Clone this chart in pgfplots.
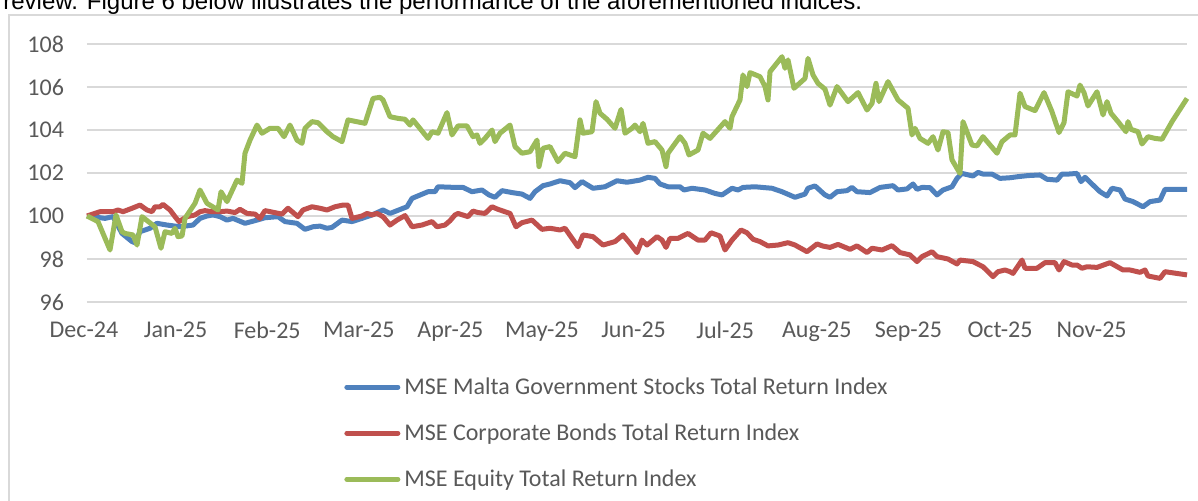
\documentclass[border=0pt]{standalone}
\usepackage{fontspec}
\setmainfont{Carlito}
\newfontfamily\arialfont{Liberation Sans}
\usepackage{pgfplots}
\pgfplotsset{compat=1.18}
\definecolor{gsblue}{HTML}{4F81BD}
\definecolor{cbred}{HTML}{C0504D}
\definecolor{eqgreen}{HTML}{9BBB59}
\definecolor{gridc}{HTML}{D9D9D9}
\definecolor{txt}{HTML}{595959}
\begin{document}
\begin{tikzpicture}
\path[use as bounding box] (0,0) rectangle (599pt,250pt);
\clip (0,0) rectangle (599pt,250pt);
\node[anchor=base west, inner sep=0pt, font=\arialfont\fontsize{12pt}{13pt}\selectfont] at (1.5pt,245.2pt) {review. Figure 6 below illustrates the performance of the aforementioned indices.};
\draw[gridc, line width=0.75pt] (4.5pt,242.5pt) rectangle (605pt,-10pt);
\begin{axis}[
  at={(43.5pt,99pt)}, anchor=south west,
  width=550pt, height=129pt, scale only axis,
  xmin=0, xmax=1100, ymin=96, ymax=108,
  axis line style={draw=none}, major tick length=0pt,
  ytick={96,98,...,108}, ymajorgrids, grid style={gridc, line width=0.75pt},
  xtick={0,91.6,183.2,274.8,366.4,458,549.6,641.2,732.8,824.4,916,1007.6},
  xticklabels={Dec-24,Jan-25,Feb-25,Mar-25,Apr-25,May-25,Jun-25,Jul-25,Aug-25,Sep-25,Oct-25,Nov-25},
  tick label style={font=\fontsize{12pt}{14pt}\selectfont, text=txt},
  /pgf/number format/assume math mode=true,
  yticklabel style={xshift=-8pt},
  xticklabel style={yshift=-6.5pt, xshift=-1.5pt},
  clip=false,
  legend style={at={(0.2336,-0.275)}, anchor=north west, draw=none, fill=none,
    font=\fontsize{12pt}{14pt}\selectfont, text=txt, row sep=9.2pt, inner sep=0pt},
  legend cell align=left,
  legend image code/.code={\draw[#1, line width=2.5pt, line cap=round] (0pt,0pt) -- (25.5pt,0pt);},
  every axis plot/.append style={line width=2.5pt, line join=round, no markers},
]
\addplot[gsblue] coordinates {
(0,100.00)(18,99.89)(26,99.97)(35,99.19)(45,98.81)(48,98.76)(53,99.27)(63,99.43)(70,99.66)(80,99.58)
(93,99.50)(106,99.58)(113,99.89)(120,100.00)(126,100.05)(133,99.97)(140,99.81)(146,99.89)(158,99.66)(170,99.81)
(178,99.92)(191,99.97)(198,99.74)(210,99.66)(218,99.38)(226,99.50)(233,99.53)(240,99.43)(245,99.47)(255,99.81)
(265,99.74)(275,99.89)(285,100.05)(296,100.28)(303,100.12)(320,100.43)(325,100.82)(341,101.13)(348,101.13)(351,101.36)
(368,101.33)(376,101.33)(385,101.13)(395,101.21)(402,100.98)(408,100.87)(415,101.18)(425,101.09)(435,101.02)(443,100.82)
(448,101.13)(456,101.41)(463,101.49)(473,101.64)(483,101.55)(488,101.32)(495,101.60)(506,101.29)(518,101.36)(530,101.64)
(540,101.57)(553,101.67)(561,101.80)(568,101.75)(573,101.49)(581,101.36)(593,101.36)(597,101.21)(605,101.29)(618,101.21)
(628,101.05)(635,100.98)(645,101.29)(651,101.21)(656,101.33)(668,101.36)(685,101.29)(695,101.13)(708,100.87)(718,101.02)
(721,101.29)(728,101.40)(738,100.98)(743,100.87)(750,101.13)(760,101.18)(765,101.33)(770,101.13)(783,101.09)(793,101.33)
(806,101.41)(811,101.21)(820,101.26)(826,101.49)(830,101.24)(835,101.33)(843,101.32)(850,100.98)(856,101.21)(865,101.36)
(870,101.75)(875,101.98)(886,101.86)(891,102.03)(896,101.95)(905,101.95)(913,101.75)(923,101.78)(931,101.83)(941,101.88)
(953,101.91)(960,101.71)(970,101.67)(975,101.95)(981,101.95)(990,101.98)(994,101.60)(998,101.80)(1006,101.44)(1013,101.13)
(1020,100.93)(1025,101.29)(1033,101.21)(1038,100.79)(1046,100.67)(1056,100.43)(1063,100.67)(1073,100.74)(1078,101.24)(1100,101.24)
};
\addlegendentry{MSE Malta Government Stocks Total Return Index}
\addplot[cbred] coordinates {
(0,100.00)(13,100.20)(26,100.20)(31,100.28)(36,100.20)(45,100.36)(53,100.51)(60,100.28)(65,100.20)(68,100.43)
(73,100.43)(76,100.54)(83,100.28)(88,99.97)(92,99.74)(100,99.97)(108,100.05)(113,100.20)(118,100.25)(125,100.20)
(133,100.20)(140,100.23)(148,100.16)(153,100.31)(160,100.12)(168,100.09)(173,99.89)(178,100.25)(195,100.09)(201,100.36)
(211,99.97)(216,100.28)(225,100.43)(233,100.36)(240,100.28)(248,100.43)(256,100.51)(261,100.51)(265,99.89)(275,100.00)
(280,100.12)(285,100.05)(290,100.12)(296,99.97)(303,99.58)(310,99.81)(318,100.02)(325,99.50)(335,99.58)(345,99.74)
(350,99.50)(358,99.58)(363,99.78)(368,100.05)(371,100.12)(381,99.97)(386,100.23)(391,100.16)(398,100.12)(405,100.43)
(411,100.31)(423,100.12)(429,99.50)(435,99.69)(445,99.81)(455,99.38)(463,99.43)(473,99.35)(478,99.43)(491,98.57)
(496,99.12)(506,99.04)(516,98.65)(528,98.81)(536,99.12)(543,98.73)(550,98.30)(555,98.88)(560,98.65)(570,99.04)
(575,98.88)(579,98.54)(583,98.96)(591,98.96)(601,99.19)(611,98.88)(618,98.88)(624,99.22)(633,99.07)(638,98.42)
(645,98.88)(654,99.35)(660,99.22)(666,98.92)(673,98.81)(681,98.61)(691,98.65)(701,98.76)(708,98.65)(720,98.34)
(730,98.70)(736,98.60)(743,98.54)(751,98.68)(763,98.45)(770,98.61)(780,98.30)(785,98.50)(795,98.42)(805,98.62)
(813,98.30)(823,98.19)(830,97.88)(835,98.11)(845,98.34)(850,98.11)(861,98.00)(870,97.77)(873,97.95)(886,97.88)
(896,97.64)(906,97.18)(911,97.41)(918,97.49)(923,97.41)(926,97.33)(935,97.95)(938,97.57)(950,97.57)(958,97.83)
(968,97.83)(972,97.49)(977,97.88)(985,97.72)(990,97.72)(995,97.57)(1000,97.64)(1010,97.61)(1023,97.83)(1036,97.49)
(1043,97.49)(1053,97.38)(1058,97.49)(1061,97.21)(1073,97.10)(1078,97.41)(1100,97.26)
};
\addlegendentry{MSE Corporate Bonds Total Return Index}
\addplot[eqgreen] coordinates {
(0,100.00)(11,99.74)(23,98.42)(29,100.05)(35,99.27)(38,99.19)(46,99.12)(50,98.65)(55,99.97)(68,99.50)
(74,98.50)(78,99.27)(85,99.19)(88,99.43)(91,99.04)(95,99.07)(98,99.89)(108,100.59)(113,101.21)(120,100.59)
(131,100.28)(134,101.13)(140,100.67)(150,101.67)(155,101.52)(158,102.92)(163,103.53)(170,104.23)(175,103.85)(183,104.08)
(191,104.08)(197,103.69)(203,104.23)(210,103.53)(215,103.38)(218,104.08)(225,104.39)(231,104.34)(240,103.92)(246,103.69)
(255,103.46)(261,104.47)(278,104.31)(286,105.47)(293,105.52)(296,105.40)(303,104.62)(311,104.54)(318,104.50)(323,104.23)
(326,104.47)(341,103.61)(345,103.92)(351,103.85)(360,104.81)(365,103.77)(371,104.19)(380,104.19)(386,103.69)(390,103.77)
(393,103.38)(398,103.61)(405,104.00)(408,103.46)(413,103.85)(423,104.23)(428,103.23)(435,102.92)(443,102.99)(450,103.53)
(452,102.30)(456,103.15)(463,103.23)(471,102.53)(478,102.92)(488,102.76)(493,104.47)(496,103.85)(505,103.92)(509,105.32)
(513,104.78)(520,104.50)(528,104.08)(534,104.96)(538,103.85)(545,104.08)(548,104.23)(553,103.92)(556,104.31)(561,103.38)
(568,103.46)(575,103.07)(579,102.30)(581,102.92)(593,103.69)(598,103.38)(602,102.84)(611,103.07)(616,103.85)(623,103.61)
(638,104.39)(643,104.08)(645,104.62)(653,105.40)(656,106.56)(660,106.02)(663,106.67)(673,106.48)(678,106.02)(681,105.40)
(683,106.71)(695,107.41)(698,106.87)(701,107.26)(707,105.94)(718,106.40)(721,107.33)(726,106.56)(731,106.17)(738,105.90)
(743,105.16)(750,106.02)(761,105.32)(771,105.74)(780,104.93)(785,105.24)(789,106.17)(792,105.32)(801,106.25)(811,105.40)
(821,105.01)(825,103.77)(828,104.08)(833,103.61)(841,103.38)(846,103.69)(851,103.07)(856,103.92)(861,103.88)(865,102.61)
(873,101.98)(876,104.39)(885,103.30)(890,103.26)(896,103.69)(910,102.92)(915,103.46)(923,103.77)(928,103.77)(933,105.71)
(938,105.09)(948,104.90)(957,105.74)(965,104.85)(972,103.88)(977,104.34)(981,105.78)(990,105.58)(993,106.09)(997,105.74)
(1001,105.12)(1010,105.78)(1016,104.70)(1020,105.32)(1024,104.78)(1031,104.39)(1039,103.92)(1041,104.39)(1044,104.03)(1051,103.92)
(1055,103.35)(1061,103.69)(1068,103.61)(1075,103.57)(1085,104.39)(1100,105.47)
};
\addlegendentry{MSE Equity Total Return Index}
\end{axis}
\end{tikzpicture}
\end{document}
